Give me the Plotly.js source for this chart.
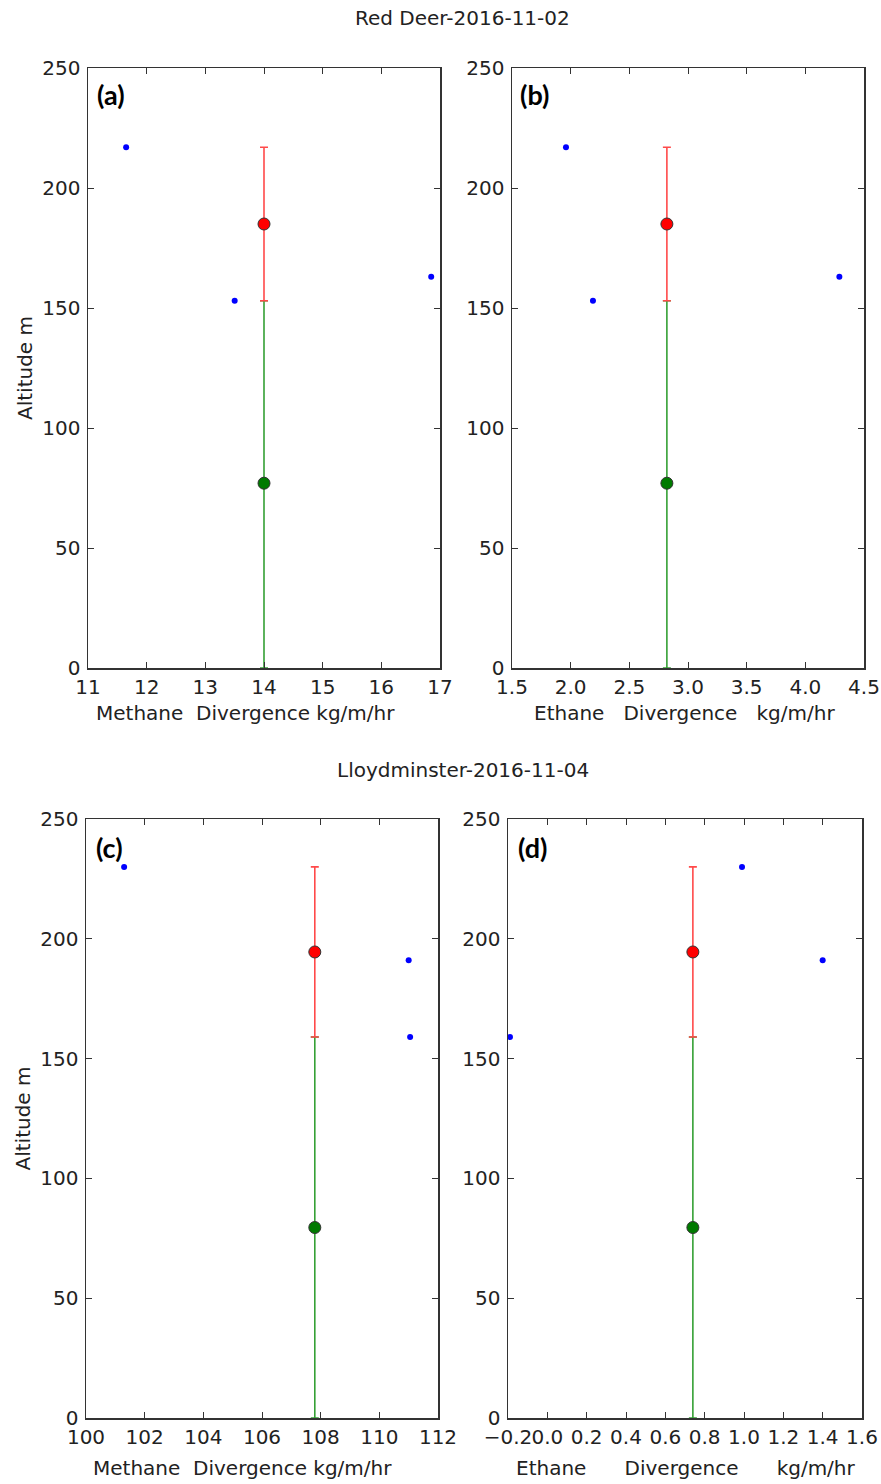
<!DOCTYPE html>
<html>
<head>
<meta charset="utf-8">
<script src="https://cdn.plot.ly/plotly-3.0.1.min.js"></script>
<style>
html,body{margin:0;padding:0;background:#fff;}
#chart{width:881px;height:1484px;}
</style>
</head>
<body>
<div id="chart"></div>
<script>
// ---------- data ----------
const siteTitles = ["Red Deer-2016-11-02", "Lloydminster-2016-11-04"];
const panelLabels = ["(a)", "(b)", "(c)", "(d)"];
const xTitles = [
  "Methane  Divergence kg/m/hr",
  "Ethane   Divergence   kg/m/hr",
  "Methane  Divergence kg/m/hr",
  "Ethane      Divergence      kg/m/hr"
];
const yTitle = "Altitude m";

// blue profile points (divergence, altitude)
const blueX_a = [11.65, 13.50, 16.85];
const blueY_a = [217, 153, 163];
const blueX_b = [1.96, 2.19, 4.29];
const blueY_b = [217, 153, 163];
const blueX_c = [101.3, 111.0, 111.05];
const blueY_c = [230, 191, 159];
const blueX_d = [-0.19, 0.99, 1.40];
const blueY_d = [159, 230, 191];

// upper layer (red) and lower layer (green) mean divergence, centre altitude, bounds
const layerX = [14.0, 2.82, 107.8, 0.74];
const redY = [185, 185, 194.5, 194.5];
const redTop = [217, 217, 230, 230];
const redBottom = [153, 153, 159, 159];
const greenY = [77, 77, 79.5, 79.5];
const greenTop = [153, 153, 159, 159];
const greenBottom = [0, 0, 0, 0];

// axis ranges & ticks
const xRanges = [[11, 17], [1.5, 4.5], [100, 112], [-0.2, 1.6]];
const xDticks = [1, 0.5, 2, 0.2];
const xFormats = ["d", ".1f", "d", ".1f"];
const yRange = [0, 250];
const yDtick = 50;

// ---------- layout geometry ----------
const W = 881, H = 1484;
const boxes = [
  {x0: 88, x1: 440, y0: 68, y1: 668},
  {x0: 512, x1: 864, y0: 68, y1: 668},
  {x0: 86, x1: 438, y0: 819, y1: 1418},
  {x0: 508, x1: 862, y0: 819, y1: 1418}
];
const xTitlePos = [{x: 245, y: 713}, {x: 684, y: 713}, {x: 242, y: 1468}, {x: 686, y: 1468}];
const labelPos = [{x: 95, y: 95}, {x: 518, y: 95}, {x: 94, y: 847}, {x: 516, y: 847}];
const titlePos = [{x: 463, y: 18}, {x: 463, y: 770}];

const FONT = "DejaVu Sans, sans-serif";
const TXT = "#222";
const FS = 20;
const blues = [[blueX_a, blueY_a], [blueX_b, blueY_b], [blueX_c, blueY_c], [blueX_d, blueY_d]];

const traces = [];
const layout = {
  width: W, height: H,
  margin: {l: 0, r: 0, t: 0, b: 0},
  paper_bgcolor: "#fff", plot_bgcolor: "#fff",
  showlegend: false,
  font: {family: FONT, size: FS, color: TXT},
  annotations: []
};

for (let i = 0; i < 4; i++) {
  const s = i === 0 ? "" : String(i + 1);
  const xa = "x" + s, ya = "y" + s;
  const b = boxes[i];
  // blue points
  traces.push({
    type: "scatter", mode: "markers", xaxis: xa, yaxis: ya,
    x: blues[i][0], y: blues[i][1],
    marker: {color: "#0000ff", size: 6}, cliponaxis: false, hoverinfo: "x+y"
  });
  // green lower layer
  traces.push({
    type: "scatter", mode: "markers", xaxis: xa, yaxis: ya,
    x: [layerX[i]], y: [greenY[i]],
    marker: {color: "#007a00", size: 12, line: {color: "#333", width: 1}},
    error_y: {type: "data", symmetric: false,
      array: [greenTop[i] - greenY[i]], arrayminus: [greenY[i] - greenBottom[i]],
      color: "#35a035", thickness: 1.6, width: 4},
    hoverinfo: "x+y"
  });
  // red upper layer
  traces.push({
    type: "scatter", mode: "markers", xaxis: xa, yaxis: ya,
    x: [layerX[i]], y: [redY[i]],
    marker: {color: "#ff0000", size: 12, line: {color: "#333", width: 1}},
    error_y: {type: "data", symmetric: false,
      array: [redTop[i] - redY[i]], arrayminus: [redY[i] - redBottom[i]],
      color: "#ff4a4a", thickness: 1.6, width: 4},
    hoverinfo: "x+y"
  });

  const axCommon = {
    showline: true, linecolor: "#333", linewidth: 1.5, mirror: "ticks",
    ticks: "inside", ticklen: 6, tickwidth: 1, tickcolor: "#333",
    showgrid: false, zeroline: false, automargin: false,
    tickfont: {family: FONT, size: FS, color: TXT}
  };
  layout["xaxis" + s] = Object.assign({}, axCommon, {
    domain: [b.x0 / W, b.x1 / W], anchor: ya, tickangle: 0,
    range: xRanges[i], tick0: xRanges[i][0], dtick: xDticks[i], tickformat: xFormats[i]
  });
  layout["yaxis" + s] = Object.assign({}, axCommon, {
    domain: [1 - b.y1 / H, 1 - b.y0 / H], anchor: xa,
    range: yRange, tick0: 0, dtick: yDtick, ticklabelstandoff: 2,
    title: (i === 0 || i === 2) ? {text: yTitle, font: {family: FONT, size: FS, color: TXT}, standoff: 4} : undefined
  });

  layout.annotations.push({
    xref: "paper", yref: "paper", x: xTitlePos[i].x / W, y: 1 - xTitlePos[i].y / H,
    xanchor: "center", yanchor: "middle", showarrow: false,
    text: xTitles[i].replace(/ /g, "\u00a0"),
    font: {family: FONT, size: FS, color: TXT}
  });
  layout.annotations.push({
    xref: "paper", yref: "paper", x: labelPos[i].x / W, y: 1 - labelPos[i].y / H,
    xanchor: "left", yanchor: "middle", showarrow: false,
    text: "<b>" + panelLabels[i] + "</b>",
    font: {family: "Lato, Open Sans, sans-serif", size: 27, color: "#000"}
  });
}
for (let k = 0; k < 2; k++) {
  layout.annotations.push({
    xref: "paper", yref: "paper", x: titlePos[k].x / W, y: 1 - titlePos[k].y / H,
    xanchor: "center", yanchor: "middle", showarrow: false,
    text: siteTitles[k], font: {family: FONT, size: 20, color: TXT}
  });
}

Plotly.newPlot("chart", traces, layout, {staticPlot: true, displayModeBar: false});
</script>
</body>
</html>
